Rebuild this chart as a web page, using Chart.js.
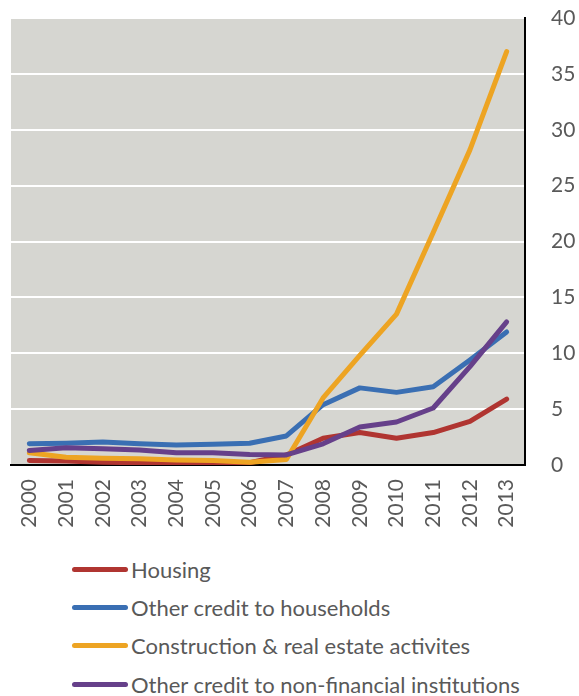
<!DOCTYPE html>
<html lang="en">
<head>
  <meta charset="UTF-8" />
  <title>Credit growth by sector</title>
  <style>
    * { box-sizing: border-box; margin: 0; padding: 0; }
    body { width: 579px; height: 696px; background: #fff; font-family: Lato, 'Open Sans', sans-serif; position: relative; overflow: hidden; }
    #wrap { position: absolute; left: 0; top: 0; width: 579px; height: 545px; }
    #legend { position: absolute; left: 72px; top: 550px; list-style: none; }
    #legend li { display: flex; align-items: center; height: 38.3px; font-size: 22px; color: #595959; white-space: nowrap; }
    #legend .swatch { display: inline-block; width: 56px; height: 5px; border-radius: 3px; margin-right: 3px; }
  </style>
</head>
<body>
  <div id="wrap"><canvas id="chart" width="579" height="545"></canvas></div>
  <ul id="legend"></ul>

  <script src="https://cdn.jsdelivr.net/npm/chart.js"></script>
  <script>
    // data
    const years = ['2000','2001','2002','2003','2004','2005','2006','2007','2008','2009','2010','2011','2012','2013'];
    const housing = [0.4, 0.35, 0.25, 0.2, 0.15, 0.1, 0.2, 0.9, 2.4, 2.9, 2.4, 2.9, 3.9, 5.9];
    const households = [1.9, 1.95, 2.05, 1.9, 1.8, 1.85, 1.95, 2.6, 5.4, 6.9, 6.5, 7.0, 9.4, 11.9];
    const construction = [1.1, 0.7, 0.6, 0.55, 0.45, 0.4, 0.25, 0.5, 6.0, 9.8, 13.5, 20.8, 28.2, 37.0];
    const nonFinancial = [1.3, 1.55, 1.45, 1.35, 1.1, 1.1, 0.95, 0.9, 1.9, 3.4, 3.85, 5.1, 8.8, 12.8];
    const yTicks = [0, 5, 10, 15, 20, 25, 30, 35, 40];

    const series = [
      { label: 'Housing', data: housing, color: '#B03531', order: 3 },
      { label: 'Other credit to households', data: households, color: '#3A6FB3', order: 2 },
      { label: 'Construction & real estate activites', data: construction, color: '#EDA423', order: 1 },
      { label: 'Other credit to non-financial institutions', data: nonFinancial, color: '#66408A', order: 0 }
    ];

    const plotBg = {
      id: 'plotBg',
      beforeDraw(chart) {
        const a = chart.chartArea, ctx = chart.ctx;
        ctx.save();
        ctx.fillStyle = '#D6D6D1';
        ctx.fillRect(a.left, a.top, a.right - a.left, a.bottom - a.top);
        ctx.restore();
      }
    };

    const font = { family: 'Lato, "Open Sans", sans-serif', size: 21 };

    new Chart(document.getElementById('chart'), {
      type: 'line',
      data: {
        labels: years,
        datasets: series.map(s => ({
          label: s.label,
          data: s.data,
          borderColor: s.color,
          backgroundColor: s.color,
          borderWidth: 5,
          borderCapStyle: 'round',
          borderJoinStyle: 'round',
          pointRadius: 0,
          tension: 0,
          order: s.order
        }))
      },
      options: {
        responsive: false,
        animation: false,
        layout: { padding: { left: 11, top: 18, right: 0, bottom: 0 } },
        plugins: { legend: { display: false }, tooltip: { enabled: false } },
        scales: {
          x: {
            offset: true,
            grid: { display: false, drawTicks: false },
            border: { color: '#000', width: 2 },
            ticks: { autoSkip: false, minRotation: 90, maxRotation: 90, padding: 14, color: '#595959', font: font },
            afterFit(s) { s.height = 80; }
          },
          y: {
            position: 'right',
            min: 0, max: 40,
            afterBuildTicks(s) { s.ticks = yTicks.map(v => ({ value: v })); },
            grid: { color: '#FFFFFF', lineWidth: 2, drawTicks: false },
            border: { color: '#000', width: 2 },
            ticks: { padding: 26, color: '#595959', font: font },
            afterFit(s) { s.width = 54; s.paddingTop = 0; s.paddingBottom = 0; }
          }
        }
      },
      plugins: [plotBg]
    });

    // legend in source order
    const legend = document.getElementById('legend');
    series.forEach(s => {
      const li = document.createElement('li');
      const sw = document.createElement('span');
      sw.className = 'swatch';
      sw.style.background = s.color;
      li.appendChild(sw);
      li.appendChild(document.createTextNode(s.label));
      legend.appendChild(li);
    });
  </script>
</body>
</html>
